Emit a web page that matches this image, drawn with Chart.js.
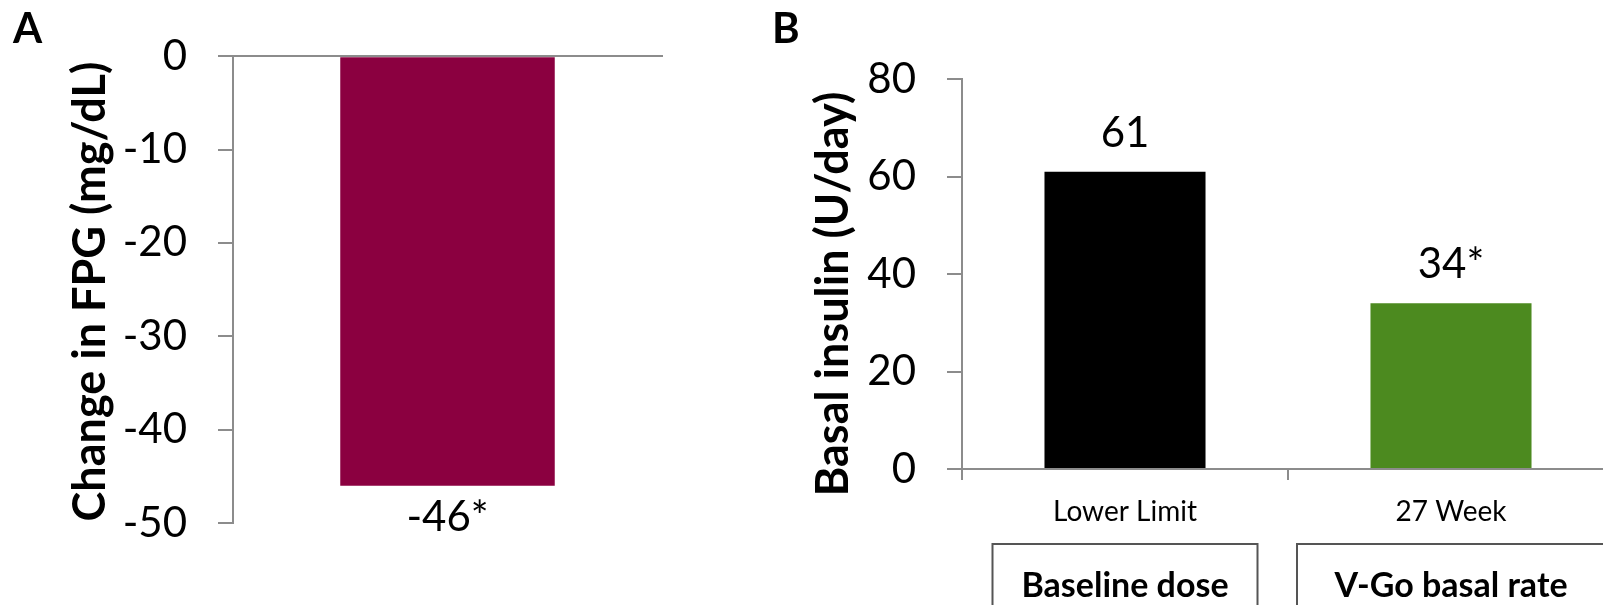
<!DOCTYPE html>
<html>
<head>
<meta charset="utf-8">
<title>FPG change and basal insulin</title>
<script src="https://cdn.jsdelivr.net/npm/chart.js@4.4.1/dist/chart.umd.min.js"></script>
<style>
  html, body { margin: 0; padding: 0; background: #fff; overflow: hidden; }
  #wrap { position: relative; width: 1603px; height: 605px; overflow: hidden; }
  canvas { position: absolute; top: 0; }
  #chartA { left: 0; }
  #chartB { left: 700px; }
</style>
</head>
<body>
<div id="wrap">
  <canvas id="chartA" width="700" height="605"></canvas>
  <canvas id="chartB" width="920" height="605"></canvas>
</div>
<script>
// panel A - change in FPG
const fpgCategories = ['FPG'];
const fpgChange = [-46];
const fpgLabels = ['-46*'];
const fpgTicks = [-50, -40, -30, -20, -10, 0];

// panel B - basal insulin dose
const insulinCategories = ['Lower Limit', '27 Week'];
const insulinDose = [61, 34];
const insulinLabels = ['61', '34*'];
const insulinGroups = ['Baseline dose', 'V-Go basal rate'];
const insulinTicks = [0, 20, 40, 60, 80];

const AXIS_GREY = '#8c8c8c';
Chart.defaults.font.family = 'Lato';
Chart.defaults.color = '#000';

// letter, rotated y title, value labels and the boxed group names
const panelText = {
    id: 'panelText',
    afterDraw(chart, args, opts) {
        const ctx = chart.ctx;
        const area = chart.chartArea;
        ctx.save();
        ctx.fillStyle = '#000';

        ctx.font = 'bold 42px Lato';
        ctx.textAlign = 'left';
        ctx.textBaseline = 'alphabetic';
        ctx.fillText(opts.letter, opts.letterX, 43);

        ctx.save();
        ctx.translate(opts.titleX, (area.top + area.bottom) / 2 + opts.titleShift);
        ctx.rotate(-Math.PI / 2);
        ctx.font = 'bold 45px Lato';
        ctx.textAlign = 'center';
        ctx.textBaseline = 'middle';
        ctx.fillText(opts.title, 0, 0);
        ctx.restore();

        ctx.font = '42px Lato';
        ctx.textAlign = 'center';
        ctx.textBaseline = 'alphabetic';
        const values = chart.data.datasets[0].data;
        chart.getDatasetMeta(0).data.forEach(function(bar, i) {
            const y = values[i] < 0 ? bar.y + 45 : bar.y - 25;
            ctx.fillText(opts.labels[i], bar.x, y);
        });

        if (opts.groups) {
            ctx.strokeStyle = '#555';
            ctx.lineWidth = 2;
            ctx.font = 'bold 34px Lato';
            opts.groups.forEach(function(name, i) {
                const cx = chart.scales.x.getPixelForValue(i);
                const w = opts.boxWidths[i];
                ctx.strokeRect(cx - w / 2, 544, w, 90);
                ctx.fillText(name, cx, 597);
            });
        }
        ctx.restore();
    }
};

new Chart(document.getElementById('chartA'), {
    type: 'bar',
    data: {
        labels: fpgCategories,
        datasets: [{
            data: fpgChange,
            backgroundColor: '#8b0040',
            barPercentage: 0.5,
            categoryPercentage: 1
        }]
    },
    options: {
        responsive: false,
        animation: false,
        layout: { padding: { left: 0, right: 38, top: 0, bottom: 82 } },
        plugins: {
            legend: { display: false },
            tooltip: { enabled: false },
            panelText: {
                letter: 'A', letterX: 13,
                title: 'Change in FPG (mg/dL)', titleX: 90, titleShift: 2,
                labels: fpgLabels
            }
        },
        scales: {
            x: {
                position: 'top',
                ticks: { display: false },
                grid: { display: false },
                border: { color: AXIS_GREY, width: 2 },
                afterFit: function(s) { s.height = 54; }
            },
            y: {
                min: -50,
                max: 0,
                afterBuildTicks: function(s) { s.ticks = fpgTicks.map(v => ({ value: v })); },
                ticks: { font: { size: 42 }, padding: 31, color: '#000' },
                grid: { drawOnChartArea: false, tickLength: 15, color: AXIS_GREY, lineWidth: 2 },
                border: { color: AXIS_GREY, width: 2 },
                afterFit: function(s) { s.width = 233; }
            }
        }
    },
    plugins: [panelText]
});

new Chart(document.getElementById('chartB'), {
    type: 'bar',
    data: {
        labels: insulinCategories,
        datasets: [{
            data: insulinDose,
            backgroundColor: ['#000000', '#4c8a1f'],
            barPercentage: 1,
            categoryPercentage: 0.494
        }]
    },
    options: {
        responsive: false,
        animation: false,
        layout: { padding: { left: 0, right: 6, top: 79, bottom: 0 } },
        plugins: {
            legend: { display: false },
            tooltip: { enabled: false },
            panelText: {
                letter: 'B', letterX: 72,
                title: 'Basal insulin (U/day)', titleX: 133, titleShift: 20,
                labels: insulinLabels,
                groups: insulinGroups,
                boxWidths: [265, 308]
            }
        },
        scales: {
            x: {
                ticks: { font: { size: 28 }, padding: 15, color: '#000' },
                grid: { drawOnChartArea: false, tickLength: 11, color: AXIS_GREY, lineWidth: 2 },
                border: { color: AXIS_GREY, width: 2 },
                afterFit: function(s) { s.height = 136; }
            },
            y: {
                min: 0,
                max: 80,
                afterBuildTicks: function(s) { s.ticks = insulinTicks.map(v => ({ value: v })); },
                ticks: { font: { size: 42 }, padding: 31, color: '#000' },
                grid: { drawOnChartArea: false, tickLength: 15, color: AXIS_GREY, lineWidth: 2 },
                border: { color: AXIS_GREY, width: 2 },
                afterFit: function(s) { s.width = 262; }
            }
        }
    },
    plugins: [panelText]
});
</script>
</body>
</html>
